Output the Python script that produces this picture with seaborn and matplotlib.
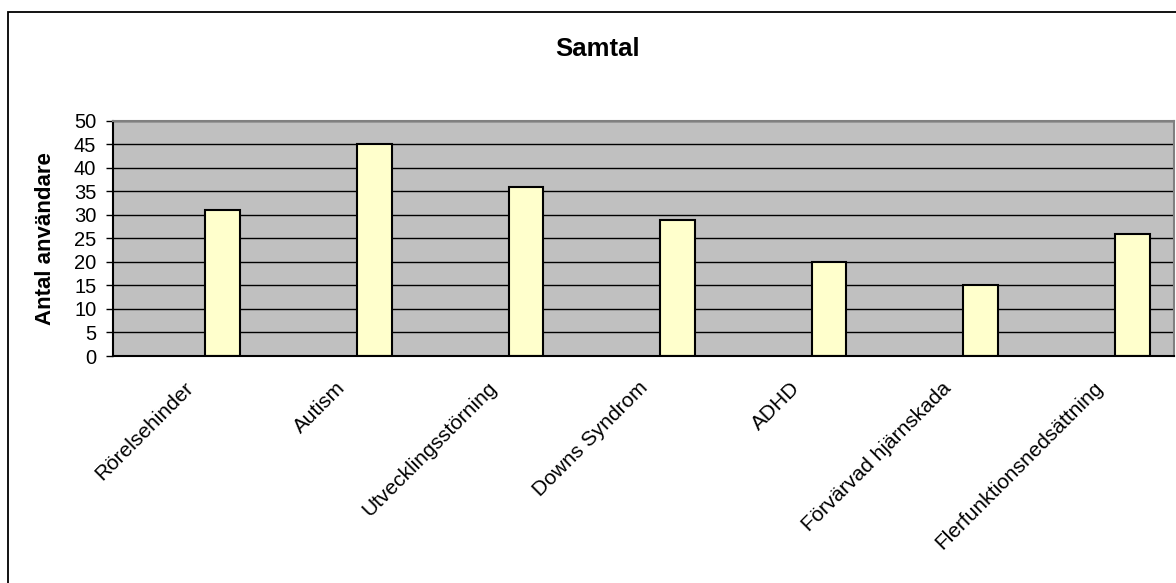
import matplotlib
matplotlib.use("Agg")
import matplotlib.pyplot as plt
from matplotlib.patches import Rectangle
from matplotlib.transforms import ScaledTranslation
import seaborn as sns
import numpy as np
import pandas as pd

# data
kategorier = ["Rörelsehinder", "Autism", "Utvecklingsstörning", "Downs Syndrom",
              "ADHD", "Förvärvad hjärnskada", "Flerfunktionsnedsättning"]
antal = [31, 45, 36, 29, 20, 15, 26]
serie = "Samtal"
y_ticks = [0, 5, 10, 15, 20, 25, 30, 35, 40, 45, 50]

sns.set_style("white")
plt.rcParams["font.family"] = ["Liberation Sans", "DejaVu Sans"]
for key in ["text.color", "axes.labelcolor", "xtick.color", "ytick.color"]:
    plt.rcParams[key] = "black"

df = pd.DataFrame({"kategori": kategorier, "antal": antal, "serie": serie})

fig = plt.figure(figsize=(11.76, 5.83), dpi=100)
ax = fig.add_axes([113 / 1176, 1 - 356 / 583, (1174 - 113) / 1176, (356 - 120.7) / 583])

# Excel-style layout: an empty first series keeps the bars right of the category centre
sns.barplot(
    data=df, x="kategori", y="antal", hue="serie",
    hue_order=["tom", serie],
    palette={"tom": "#FFFFCC", serie: "#FFFFCC"},
    order=kategorier, width=0.896, gap=0.489, dodge=True, saturation=1,
    edgecolor="black", linewidth=1.5, legend=False, ax=ax,
)

ax.set_facecolor("#C0C0C0")
ax.set_ylim(0, 50)
ax.set_xlim(-0.5, len(kategorier) - 0.5)
ax.set_yticks(y_ticks)
ax.yaxis.grid(True, color="black", linewidth=1)
ax.set_axisbelow(True)

ax.set_xticks(range(len(kategorier)))
ax.set_xticklabels(kategorier, rotation=45, ha="right", va="top",
                   rotation_mode="anchor", fontsize=15)
ax.set_xticks(np.arange(-0.5, len(kategorier)), minor=True)
ax.tick_params(axis="x", which="major", length=0, pad=16)
ax.tick_params(axis="x", which="minor", length=5, width=1, color="black", direction="out")
ax.tick_params(axis="y", length=5, width=1, color="black", direction="out",
               labelsize=14.5, pad=7, left=True)

# nudge rotated category labels a little left, like the reference
shift = ScaledTranslation(-5 / 100, 0, fig.dpi_scale_trans)
for lbl in ax.get_xticklabels():
    lbl.set_transform(lbl.get_transform() + shift)

ax.set_xlabel("")
ax.set_ylabel("Antal användare", fontsize=16, fontweight="bold", labelpad=13)

for side in ["left", "bottom"]:
    ax.spines[side].set_color("black")
    ax.spines[side].set_linewidth(1.5)
for side in ["top", "right"]:
    ax.spines[side].set_color("#808080")
    ax.spines[side].set_linewidth(1.5)

fig.text(0.508, 1 - 49 / 583, "Samtal", ha="center", va="center",
         fontsize=18.5, fontweight="bold")

# outer chart border
fig.patches.append(Rectangle((7.5 / 1176, -0.05), 1.1, 1 - 12.3 / 583 + 0.05,
                             transform=fig.transFigure, fill=False,
                             edgecolor="black", linewidth=1.3))

fig.savefig("out.png", dpi=100)
plt.close(fig)
